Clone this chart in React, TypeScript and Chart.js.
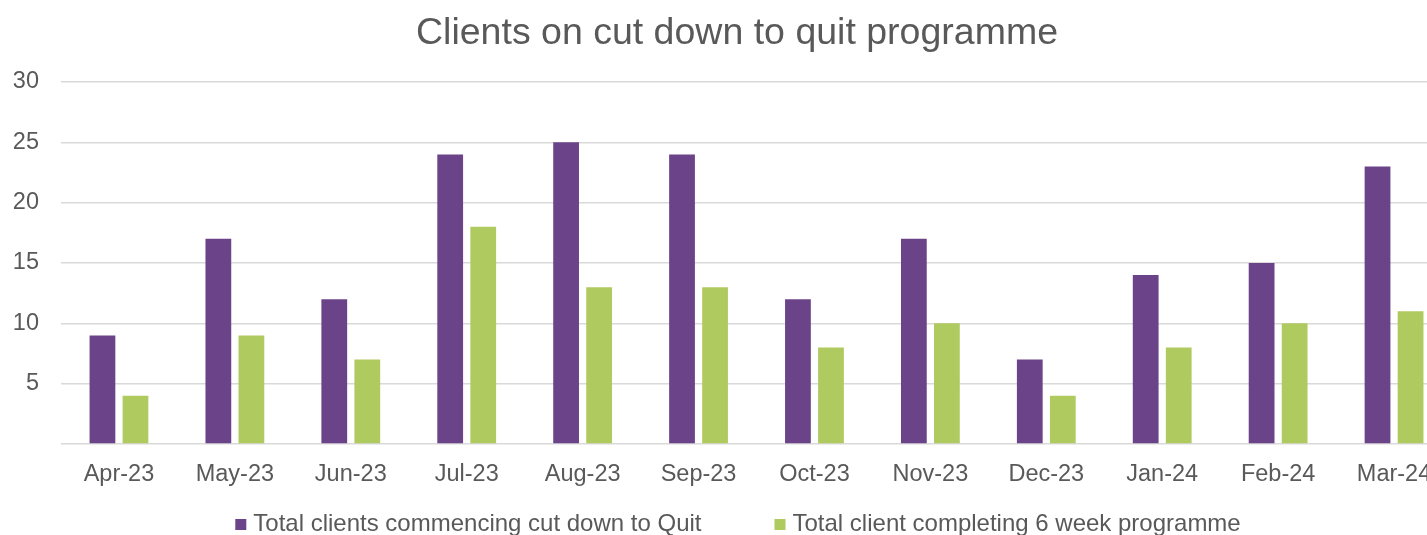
import { useEffect, useRef } from 'react';
import { Chart, registerables } from 'chart.js';

Chart.register(...registerables);

const months = ['Apr-23', 'May-23', 'Jun-23', 'Jul-23', 'Aug-23', 'Sep-23', 'Oct-23', 'Nov-23', 'Dec-23', 'Jan-24', 'Feb-24', 'Mar-24'];
const commencing = [9, 17, 12, 24, 25, 24, 12, 17, 7, 14, 15, 23];
const completing = [4, 9, 7, 18, 13, 13, 8, 10, 4, 8, 10, 11];
const seriesNames = ['Total clients commencing cut down to Quit', 'Total client completing 6 week programme'];
const seriesColors = ['#6B4389', '#AFCA5F'];
const titleText = 'Clients on cut down to quit programme';
const yMin = 0;
const yMax = 30;
const yStep = 5;

const FONT = '"Liberation Sans", Arial, sans-serif';
const TEXT = '#595959';

const titlePlugin = {
  id: 'customTitle',
  afterDraw(chart: any) {
    const ctx = chart.ctx as CanvasRenderingContext2D;
    ctx.save();
    ctx.font = `37.5px ${FONT}`;
    ctx.fillStyle = TEXT;
    ctx.textAlign = 'center';
    ctx.textBaseline = 'alphabetic';
    ctx.fillText(titleText, chart.width / 2, 43.5);
    ctx.restore();
  },
};

const legendPlugin = {
  id: 'customLegend',
  afterDraw(chart: any) {
    const ctx = chart.ctx as CanvasRenderingContext2D;
    ctx.save();
    ctx.font = `24px ${FONT}`;
    const box = 11;
    const gapBoxText = 7;
    const gapItems = 73;
    const items = chart.data.datasets.map((ds: any) => ({
      label: ds.label,
      color: ds.backgroundColor,
      w: box + gapBoxText + ctx.measureText(ds.label).width,
    }));
    const total = items.reduce((a: number, it: any) => a + it.w, 0) + gapItems * (items.length - 1);
    let x = chart.width / 2 - total / 2 + 1;
    const baseline = 531;
    for (const it of items) {
      ctx.fillStyle = it.color;
      ctx.fillRect(x, baseline - 12, box, box);
      ctx.fillStyle = TEXT;
      ctx.textBaseline = 'alphabetic';
      ctx.textAlign = 'left';
      ctx.fillText(it.label, x + box + gapBoxText, baseline);
      x += it.w + gapItems;
    }
    ctx.restore();
  },
};

export default function App() {
  const ref = useRef<HTMLCanvasElement>(null);

  useEffect(() => {
    if (!ref.current) return;
    const chart = new Chart(ref.current, {
      type: 'bar',
      data: {
        labels: months,
        datasets: [
          {
            label: seriesNames[0],
            data: commencing,
            backgroundColor: seriesColors[0],
            borderWidth: 0,
            categoryPercentage: 0.57,
            barPercentage: 0.78,
          },
          {
            label: seriesNames[1],
            data: completing,
            backgroundColor: seriesColors[1],
            borderWidth: 0,
            categoryPercentage: 0.57,
            barPercentage: 0.78,
          },
        ],
      },
      options: {
        responsive: false,
        animation: false,
        devicePixelRatio: 1,
        layout: { padding: { left: 0, right: 22, top: 82, bottom: 31 } },
        plugins: {
          legend: { display: false },
          tooltip: { enabled: false },
          title: { display: false },
        },
        scales: {
          x: {
            grid: { display: false },
            border: { display: false },
            ticks: {
              color: TEXT,
              font: { family: FONT, size: 23.5 },
              padding: 8,
              maxRotation: 0,
              autoSkip: false,
            },
            afterFit: (s: any) => {
              s.height = 60;
            },
          },
          y: {
            min: yMin,
            max: yMax,
            ticks: {
              stepSize: yStep,
              color: TEXT,
              font: { family: FONT, size: 23.5 },
              padding: 22,
              callback: (v: any) => (v === 0 ? '' : String(v)),
            },
            grid: { color: '#D9D9D9', lineWidth: 1.5, drawTicks: false },
            border: { display: false },
            afterFit: (s: any) => {
              s.width = 61;
            },
          },
        },
      },
      plugins: [titlePlugin, legendPlugin],
    });
    return () => chart.destroy();
  }, []);

  return (
    <div
      style={{
        position: 'fixed',
        top: 0,
        left: 0,
        width: 1427,
        height: 535,
        overflow: 'hidden',
        background: '#fff',
      }}
    >
      <canvas ref={ref} width={1474} height={535} style={{ width: 1474, height: 535, display: 'block' }} />
    </div>
  );
}
